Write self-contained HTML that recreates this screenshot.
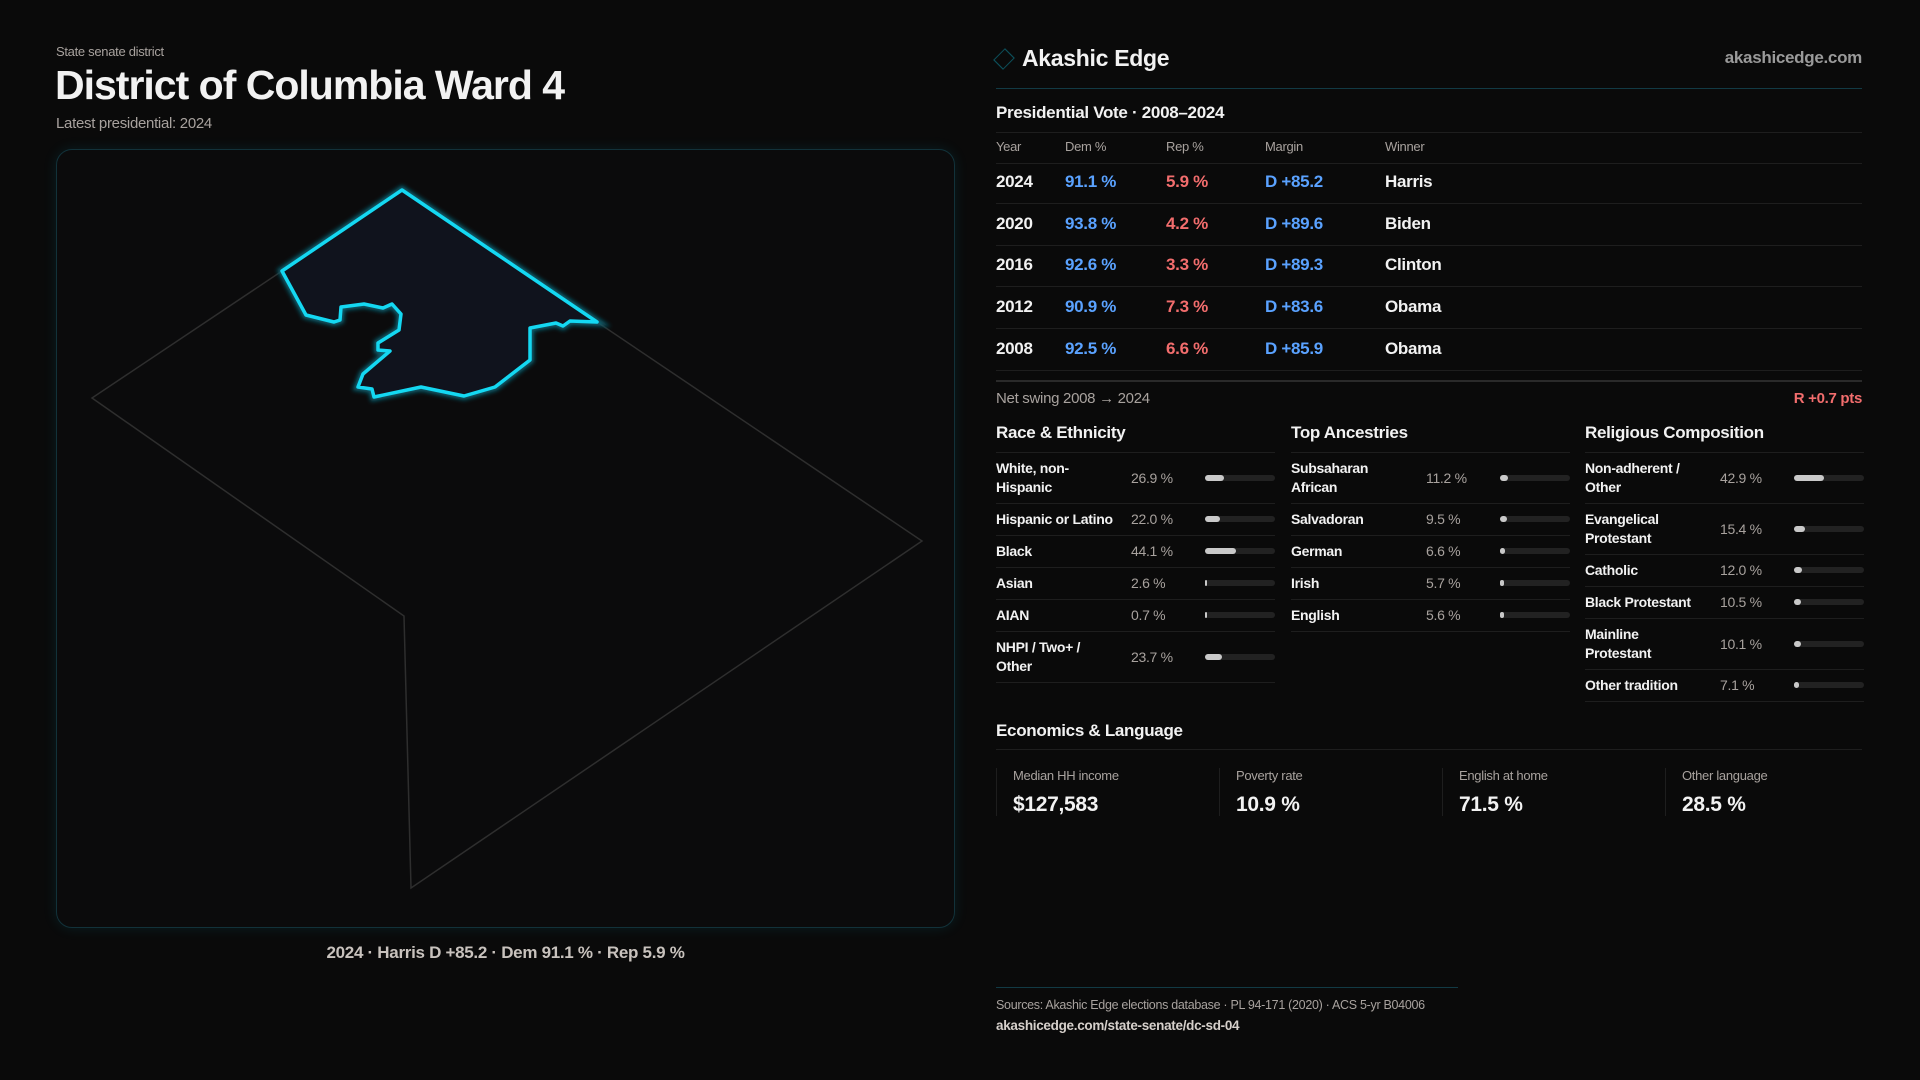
<!DOCTYPE html>
<html><head><meta charset="utf-8"><style>
*{margin:0;padding:0;box-sizing:border-box}
body{width:1920px;height:1080px;background:#0a0a0a;font-family:"Liberation Sans",sans-serif;color:#f2f2f2;position:relative;overflow:hidden;letter-spacing:-0.3px}
.a{position:absolute;white-space:nowrap}
.hl{position:absolute;height:1px;background:#1e1e1e}
.g{color:#a8a29e}
.b{color:#5aa2ff}.r{color:#f26d6d}
.bar{position:absolute;height:6px;border-radius:3px;background:#222}
.fill{position:absolute;left:0;top:0;height:6px;border-radius:3px;background:#c9c9c9}
</style></head><body>
<div class="a g" style="left:56px;top:44px;font-size:13px">State senate district</div>
<div class="a" style="left:55px;top:62px;font-size:41px;font-weight:bold;letter-spacing:-1px">District of Columbia Ward 4</div>
<div class="a g" style="left:56px;top:115px;font-size:15px">Latest presidential: 2024</div>

<div class="a" style="left:56px;top:149px;width:899px;height:779px;border:1px solid #12323a;border-radius:16px;background:#0b0b0c;box-shadow:0 0 14px rgba(0,180,210,0.12)"></div>
<svg class="a" style="left:0;top:0" width="1920" height="1080">
<defs><filter id="gl" x="-20%" y="-20%" width="140%" height="140%"><feGaussianBlur stdDeviation="2"/></filter></defs>
<polygon points="92,398 282,271 402,190 597,322 922,541 411,888 404,616" fill="none" stroke="#2e2e2e" stroke-width="1.5"/>
<polygon points="402,190 597,322 570,321 563,326 556,323 530,328 530,360 495,387 464,396 421,387 374,397 372,389 358,387 363,374 390,351 378,350 378,343 399,330 401,314 392,304 383,308 364,304 341,307 340,320 334,322 306,315 282,271" fill="none" stroke="#0a5f6e" stroke-width="8" filter="url(#gl)"/>
<polygon points="402,190 597,322 570,321 563,326 556,323 530,328 530,360 495,387 464,396 421,387 374,397 372,389 358,387 363,374 390,351 378,350 378,343 399,330 401,314 392,304 383,308 364,304 341,307 340,320 334,322 306,315 282,271" fill="#10131d" stroke="#14d8f2" stroke-width="3.5" stroke-linejoin="round"/>
</svg>
<div class="a" style="left:56px;width:899px;top:943px;text-align:center;font-size:17px;color:#c8c2bd;font-weight:bold">2024 · Harris D +85.2 · Dem 91.1 % · Rep 5.9 %</div>

<div class="a" style="left:997px;top:52px;width:14px;height:14px;border:1.5px solid #0d4f5a;transform:rotate(45deg) scaleY(1.2)"></div>
<div class="a" style="left:1022px;top:45px;font-size:23px;font-weight:bold">Akashic Edge</div>
<div class="a" style="right:58px;top:48px;font-size:17px;color:#9a9a9a;font-weight:bold">akashicedge.com</div>
<div class="hl" style="left:996px;width:866px;top:88px;background:#123a44"></div>

<div class="a" style="left:996px;top:103px;font-size:17px;font-weight:bold">Presidential Vote · 2008–2024</div>
<div class="hl" style="left:996px;width:866px;top:132px"></div>
<div id="vote"></div>
<div class="hl" style="left:996px;width:866px;top:380px;background:#2a2a2a;height:2px"></div>
<div class="a g" style="left:996px;top:390px;font-size:15px">Net swing 2008 → 2024</div>
<div class="a r" style="right:58px;top:390px;font-size:15px;font-weight:bold">R +0.7 pts</div>

<div id="demo"></div>

<div class="a" style="left:996px;top:721px;font-size:17px;font-weight:bold">Economics &amp; Language</div>
<div class="hl" style="left:996px;width:866px;top:749px"></div>
<div id="econ"></div>

<div class="hl" style="left:996px;width:462px;top:987px;background:#123a44"></div>
<div class="a g" style="left:996px;top:998px;font-size:12.5px">Sources: Akashic Edge elections database · PL 94-171 (2020) · ACS 5-yr B04006</div>
<div class="a" style="left:996px;top:1018px;font-size:13.5px;color:#d6d0cb;font-weight:bold">akashicedge.com/state-senate/dc-sd-04</div>

<script>
const years=["2024","2020","2016","2012","2008"];
const demPct=[91.1,93.8,92.6,90.9,92.5];
const repPct=[5.9,4.2,3.3,7.3,6.6];
const winners=["Harris","Biden","Clinton","Obama","Obama"];
const raceLabels=["White, non-\nHispanic","Hispanic or Latino","Black","Asian","AIAN","NHPI / Two+ /\nOther"];
const raceVals=[26.9,22.0,44.1,2.6,0.7,23.7];
const ancLabels=["Subsaharan\nAfrican","Salvadoran","German","Irish","English"];
const ancVals=[11.2,9.5,6.6,5.7,5.6];
const relLabels=["Non-adherent /\nOther","Evangelical\nProtestant","Catholic","Black Protestant","Mainline\nProtestant","Other tradition"];
const relVals=[42.9,15.4,12.0,10.5,10.1,7.1];
const econLabels=["Median HH income","Poverty rate","English at home","Other language"];
const econVals=["$127,583","10.9 %","71.5 %","28.5 %"];

function mk(parent,style,html,cls){const d=document.createElement('div');d.className='a '+(cls||'');d.style.cssText=style;d.innerHTML=html;parent.appendChild(d);return d;}
const vote=document.getElementById('vote');
const cols=[996,1065,1166,1265,1385];
["Year","Dem %","Rep %","Margin","Winner"].forEach((h,i)=>{
const e=mk(vote,`left:${cols[i]}px;top:139px;font-size:13px`,h,'g');

});
const hl0=mk(vote,'left:996px;width:866px;top:163px','','hl');hl0.className='hl';
const rowH=41.7;
years.forEach((y,i)=>{
const top=172+i*rowH;
const m=demPct[i]-repPct[i];
const row=document.createElement('div');


vote.appendChild(row);
const cells=[[y,''],[demPct[i].toFixed(1)+' %','b'],[repPct[i].toFixed(1)+' %','r'],[(m>=0?'D +':'R +')+Math.abs(m).toFixed(1),'b'],[winners[i],'']];
cells.forEach((c,j)=>mk(row,`left:${cols[j]}px;top:${top}px;font-size:17px;font-weight:bold`,c[0],c[1]));
const l=mk(row,`left:996px;width:866px;top:${top+31}px`,'','');l.className='hl';
});

const demo=document.getElementById('demo');
function section(x,title,labels,vals,name){
const t=mk(demo,`left:${x}px;top:423px;font-size:17px;font-weight:bold`,title);


const u=mk(demo,`left:${x}px;width:279px;top:452px`,'');u.className='hl';
let y=452;
labels.forEach((lab,i)=>{
const two=lab.includes('\n');const h=two?51:32;
const row=document.createElement('div');


demo.appendChild(row);
const cy=y+h/2;
mk(row,`left:${x}px;top:${cy-(two?19:9)}px;font-size:14px;font-weight:bold;line-height:19px;white-space:pre`,lab);
mk(row,`left:${x+135}px;top:${cy-9}px;font-size:14px;line-height:18px`,vals[i].toFixed(1)+' %','g');
const bar=mk(row,`left:${x+209}px;top:${cy-3}px;width:70px`,'');bar.className='bar';
const f=document.createElement('div');f.className='fill';f.style.width=Math.max(2,vals[i]/100*70)+'px';


bar.appendChild(f);
y+=h;
const l=mk(row,`left:${x}px;width:279px;top:${y}px`,'');l.className='hl';
});}
section(996,"Race &amp; Ethnicity",raceLabels,raceVals,'race');
section(1291,"Top Ancestries",ancLabels,ancVals,'ancestry');
section(1585,"Religious Composition",relLabels,relVals,'religion');

const econ=document.getElementById('econ');
econLabels.forEach((l,i)=>{
const x=996+i*223;
const c=mk(econ,`left:${x}px;top:768px;width:223px;height:48px;border-left:1px solid #1e1e1e;padding-left:16px`,`<div style="font-size:13px;color:#a8a29e">${l}</div><div style="font-size:21px;font-weight:bold;margin-top:10px">${econVals[i]}</div>`);


});
</script>
</body></html>
